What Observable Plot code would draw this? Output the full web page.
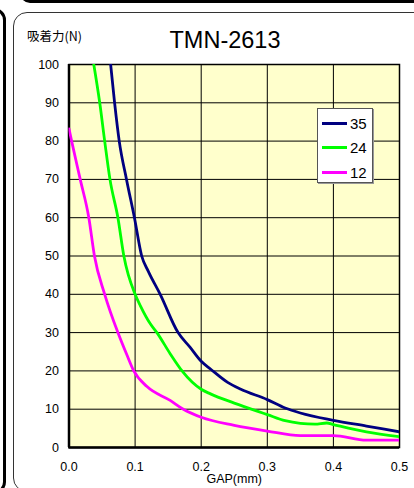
<!DOCTYPE html>
<html>
<head>
<meta charset="utf-8">
<script src="https://cdn.jsdelivr.net/npm/d3@7"></script>
<script src="https://cdn.jsdelivr.net/npm/@observablehq/plot@0.6"></script>
<style>
  html, body { margin: 0; padding: 0; background: #fff; }
  body { width: 414px; height: 488px; overflow: hidden; position: relative; font-family: "Liberation Sans", Arial, sans-serif; }
  .topbar { position: absolute; left: 20px; top: -37px; width: 420px; height: 40px; border: 3px solid #000; border-radius: 10px; box-sizing: border-box; }
  .leftbox { position: absolute; left: -60px; top: 8px; width: 66px; height: 486px; border: 3px solid #000; border-radius: 12px; box-sizing: border-box; }
  .panel { position: absolute; left: 13px; top: 12px; width: 420px; height: 480px; border: 1.5px solid #333; border-radius: 14px; box-sizing: border-box; background: #fff; }
  #chart { position: absolute; left: 0; top: 0; }
  .title { position: absolute; left: 0; width: 450px; top: 27px; text-align: center; font-size: 23.5px; color: #000; }
  .ylabel { position: absolute; left: 27px; top: 26px; font-size: 12.5px; font-family: "Noto Sans CJK JP", sans-serif; color: #000; }
  .legend { position: absolute; left: 317px; top: 108px; width: 56px; height: 75px; background: #fff; border: 1px solid #555; box-sizing: border-box; box-shadow: 1px 1px 0 #999; }
  .legend .row { position: absolute; left: 4px; height: 18px; display: flex; align-items: center; font-size: 15px; }
  .legend .row span.sw { display: inline-block; width: 25px; height: 3px; margin-right: 3px; }
</style>
</head>
<body>
<div class="topbar"></div>
<div class="leftbox"></div>
<div class="panel"></div>
<div id="chart"></div>
<div class="title">TMN-2613</div>
<div class="ylabel">吸着力(N)</div>
<div class="legend" id="legend"></div>
<script>
// Series: gap (mm) vs attraction force (N)
const seriesNames = ["35", "24", "12"];
const seriesColors = ["#000080", "#00ff00", "#ff00ff"];

const gap35 = [0.063, 0.069, 0.076, 0.087, 0.099, 0.11, 0.12, 0.138, 0.165, 0.183, 0.2, 0.214, 0.24, 0.26, 0.3, 0.327, 0.35, 0.4, 0.45, 0.5];
const f35   = [100, 90, 80, 70, 60, 50, 46, 40, 30, 26.2, 22.5, 20.5, 17, 15.2, 12.5, 10.3, 9, 7.1, 5.6, 4.1];

const gap24 = [0.0375, 0.0465, 0.054, 0.062, 0.074, 0.083, 0.1, 0.108, 0.123, 0.133, 0.153, 0.171, 0.2, 0.214, 0.25, 0.3, 0.327, 0.35, 0.372, 0.39, 0.4, 0.45, 0.5];
const f24   = [100, 90, 80, 70, 60, 50, 40, 37, 32.3, 30, 24.5, 20, 15.2, 14, 11.6, 8.6, 7.0, 6.3, 6.1, 6.4, 6.0, 4.1, 2.8];

const gap12 = [0, 0.004, 0.017, 0.03, 0.0385, 0.054, 0.074, 0.088, 0.098, 0.118, 0.153, 0.173, 0.2, 0.25, 0.3, 0.35, 0.4, 0.45, 0.5];
const f12   = [83.2, 80, 70, 60, 50, 40, 30, 24, 20, 15.9, 12.3, 10, 7.9, 5.8, 4.3, 3.1, 3.1, 1.9, 1.9];

const xTicks = [0, 0.1, 0.2, 0.3, 0.4, 0.5];
const yTicks = [0, 10, 20, 30, 40, 50, 60, 70, 80, 90, 100];
const xLabel = "GAP(mm)";

const gaps = [gap35, gap24, gap12];
const forces = [f35, f24, f12];
const data = [];
seriesNames.forEach((s, i) => gaps[i].forEach((g, j) => data.push({series: s, gap: g, force: forces[i][j]})));

const chart = Plot.plot({
  width: 414,
  height: 488,
  marginLeft: 68.5,
  marginRight: 15,
  marginTop: 64,
  marginBottom: 41,
  style: {fontFamily: "'Liberation Sans', Arial, sans-serif", fontSize: "12.5px", background: "transparent", color: "#000"},
  x: {domain: [0, 0.5]},
  y: {domain: [0, 100]},
  color: {domain: seriesNames, range: seriesColors},
  marks: [
    Plot.frame({fill: "#ffffcc"}),
    Plot.ruleX(xTicks, {stroke: "#000", strokeWidth: 1}),
    Plot.ruleY(yTicks, {stroke: "#000", strokeWidth: 1}),
    Plot.frame({stroke: "#000", strokeWidth: 1.5}),
    Plot.ruleX([0], {stroke: "#000", strokeWidth: 2.5}),
    Plot.ruleY([0], {stroke: "#000", strokeWidth: 2.5}),
    Plot.line(data, {x: "gap", y: "force", z: "series", stroke: "series", strokeWidth: 2.8, curve: "monotone-x", clip: true}),
    Plot.axisX({ticks: xTicks, tickFormat: d3.format(".1f"), tickSize: 0, tickPadding: 15, fontSize: 12.5,
                label: xLabel, labelAnchor: "center", labelArrow: "none", labelOffset: 35}),
    Plot.axisY({ticks: yTicks, tickSize: 0, tickPadding: 10, fontSize: 12.5, label: null})
  ]
});
document.getElementById("chart").appendChild(chart);

// legend
const lg = document.getElementById("legend");
seriesNames.forEach((s, i) => {
  const row = document.createElement("div");
  row.className = "row";
  row.style.top = (5 + i * 24.5) + "px";
  row.innerHTML = `<span class="sw" style="background:${seriesColors[i]}"></span><span>${s}</span>`;
  lg.appendChild(row);
});
</script>
</body>
</html>
